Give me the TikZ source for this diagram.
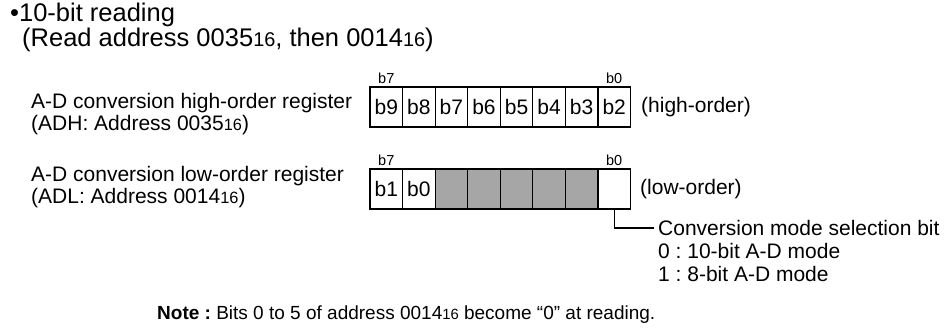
\documentclass[tikz,border=0pt]{standalone}
\usepackage{fontspec}
\setmainfont{Liberation Sans}
\usepackage{xcolor}
\usepackage{tikz}
\usetikzlibrary{positioning}
\definecolor{cellgrey}{HTML}{A6A6A6}
\newcommand{\hsub}{\scalebox{0.78}{16}}
\frenchspacing

\begin{document}
\begin{tikzpicture}[x=1pt,y=-1pt,
    big/.style={font=\fontsize{25.5}{27}\selectfont,inner sep=0pt,anchor=base west},
    txt/.style={font=\fontsize{21}{22}\selectfont,inner sep=0pt,anchor=base west},
    bitno/.style={font=\fontsize{14.5}{15}\selectfont,inner sep=0pt},
    cell/.style={draw,line width=1.2pt,minimum width=32.56pt,minimum height=40pt,
      inner sep=0pt,outer sep=0pt,font=\fontsize{21}{21}\selectfont},
    blank/.style={cell,fill=cellgrey}]
    \useasboundingbox (0,0) rectangle (949,327);

    \node[big] (title) at (10,21) {\textbullet 10-bit reading};
    \node[big] (order) at (22,46) {(Read address 0035\hsub, then 0014\hsub)};

    % high-order register
    \node[txt] (hiname) at (31,108) {A-D conversion high-order register};
    \node[txt] (hiaddr) at (31,130) {(ADH: Address 0035\hsub)};
    \foreach \b [count=\i] in {9,8,...,2}
      \node[cell] (hi\i) at ({370+16.28+32.56*(\i-1)},107) {b\b};
    \node[bitno,above=3pt of hi1] (hib7) {b7};
    \node[bitno,above=3pt of hi8] (hib0) {b0};
    \node[txt,anchor=west] (hiside) at (641,107) {(high-order)};

    % low-order register
    \node[txt] (loname) at (31,181) {A-D conversion low-order register};
    \node[txt] (loaddr) at (31,203) {(ADL: Address 0014\hsub)};
    \node[cell] (lo1) at (386.28,189) {b1};
    \node[cell] (lo2) at (418.84,189) {b0};
    \foreach \i in {3,...,7}
      \node[blank] (lo\i) at ({370+16.28+32.56*(\i-1)},189) {};
    \node[cell] (lo8) at (614.2,189) {};
    \node[bitno,above=3pt of lo1] (lob7) {b7};
    \node[bitno,above=3pt of lo8] (lob0) {b0};
    \node[txt,anchor=west] (loside) at (640,189) {(low-order)};

    % conversion mode bit
    \node[txt] (modebit) at (658,235) {Conversion mode selection bit};
    \node[txt] (mode0) at (658,258) {0 : 10-bit A-D mode};
    \node[txt] (mode1) at (658,281) {1 : 8-bit A-D mode};
    \coordinate (modeend) at ([xshift=-4pt,yshift=7pt]modebit.base west);
    \draw[line width=1.2pt] (lo8.south) |- (modeend);

    \node[font=\fontsize{19}{20}\selectfont,inner sep=0pt,anchor=base west] (note)
      at (157,319) {\textbf{Note :} Bits 0 to 5 of address 0014\hsub{} become “0” at reading.};
\end{tikzpicture}
\end{document}
